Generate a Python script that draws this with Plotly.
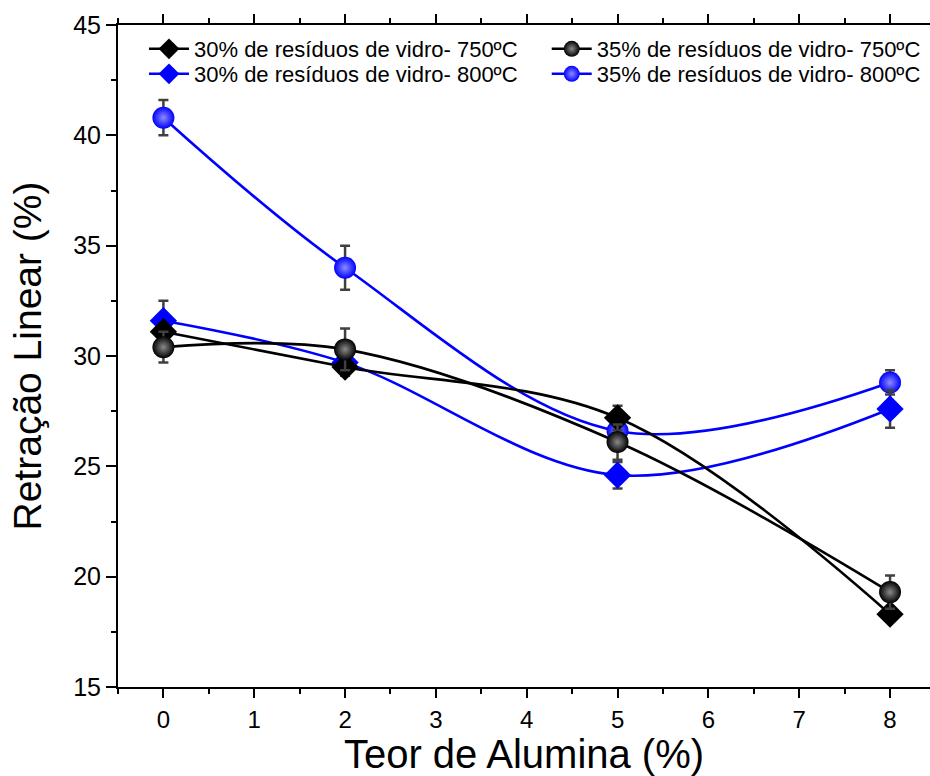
import plotly.graph_objects as go

# Alumina content (%) on the x axis
alumina = [0, 2, 5, 8]

# Linear shrinkage (%) and standard deviations for each glass-waste / firing series
r30_750 = [31.1, 29.5, 27.2, 18.3]
e30_750 = [0.3, 0.4, 0.55, 0.3]
r35_750 = [30.4, 30.3, 26.1, 19.3]
e35_750 = [0.7, 0.95, 0.8, 0.75]
r30_800 = [31.6, 29.7, 24.6, 27.6]
e30_800 = [0.9, 0.5, 0.6, 0.85]
r35_800 = [40.8, 34.0, 26.6, 28.8]
e35_800 = [0.8, 1.0, 0.5, 0.55]

names = {
    "30_750": "30% de resíduos de vidro- 750ºC",
    "35_750": "35% de resíduos de vidro- 750ºC",
    "30_800": "30% de resíduos de vidro- 800ºC",
    "35_800": "35% de resíduos de vidro- 800ºC",
}

FONT = "Liberation Sans, Arial, sans-serif"
ERR = "#404040"


def series(y, err, name, color, symbol, size, legend, grad=None):
    marker = dict(symbol=symbol, size=size, color=color, line=dict(width=0))
    if grad:
        marker["gradient"] = dict(type="radial", color=grad)
    return go.Scatter(
        x=alumina, y=y, name=name, legend=legend,
        mode="lines+markers",
        line=dict(color=color, width=2.6, shape="spline", smoothing=1.0),
        marker=marker,
        error_y=dict(type="data", array=err, visible=True,
                     color=ERR, thickness=2.5, width=5),
    )


fig = go.Figure()
# drawing order: bottom to top; each series has its own legend box (2 x 2 grid)
fig.add_trace(series(r35_800, e35_800, names["35_800"], "#0000ff", "circle", 22, "legend4", "#8c8cff"))
fig.add_trace(series(r30_800, e30_800, names["30_800"], "#0000ff", "diamond", 21, "legend3"))
fig.add_trace(series(r30_750, e30_750, names["30_750"], "#000000", "diamond", 21, "legend"))
fig.add_trace(series(r35_750, e35_750, names["35_750"], "#000000", "circle", 22, "legend2", "#8a8a8a"))

legend_style = dict(
    xanchor="left", yanchor="top",
    font=dict(size=22, family=FONT), bgcolor="rgba(0,0,0,0)",
    itemwidth=40,
)
col1, col2 = 0.032, 0.528
row1, row2 = 1.0 - 3 / 662, 1.0 - 28 / 662

fig.update_layout(
    width=930, height=776,
    margin=dict(l=118, r=0, t=25, b=89),
    paper_bgcolor="white", plot_bgcolor="white",
    font=dict(family=FONT, color="black"),
    showlegend=True,
    legend=dict(x=col1, y=row1, **legend_style),
    legend2=dict(x=col2, y=row1, **legend_style),
    legend3=dict(x=col1, y=row2, **legend_style),
    legend4=dict(x=col2, y=row2, **legend_style),
)

fig.update_xaxes(
    range=[-0.5, 8.44], tickmode="array", tickvals=[0, 1, 2, 3, 4, 5, 6, 7, 8],
    showline=True, linecolor="black", linewidth=2, mirror="ticks",
    ticks="outside", ticklen=9, tickwidth=2, tickcolor="black",
    minor=dict(dtick=0.5, tick0=0, ticks="outside", ticklen=5, tickwidth=2, tickcolor="black"),
    showgrid=False, zeroline=False, ticklabelstandoff=1,
    tickfont=dict(size=24, family=FONT),
    title=dict(text="Teor de Alumina (%)", font=dict(size=40, family=FONT), standoff=13),
)
fig.update_yaxes(
    range=[15, 45], tickmode="array", tickvals=[15, 20, 25, 30, 35, 40, 45],
    showline=True, linecolor="black", linewidth=2, mirror=False,
    ticks="outside", ticklen=10, tickwidth=2, tickcolor="black",
    minor=dict(dtick=2.5, tick0=15, ticks="outside", ticklen=5, tickwidth=2, tickcolor="black"),
    showgrid=False, zeroline=False,
    tickfont=dict(size=25, family=FONT),
    title=dict(text="Retração Linear (%)", font=dict(size=39, family=FONT), standoff=20),
)

fig.write_html("out.html")
